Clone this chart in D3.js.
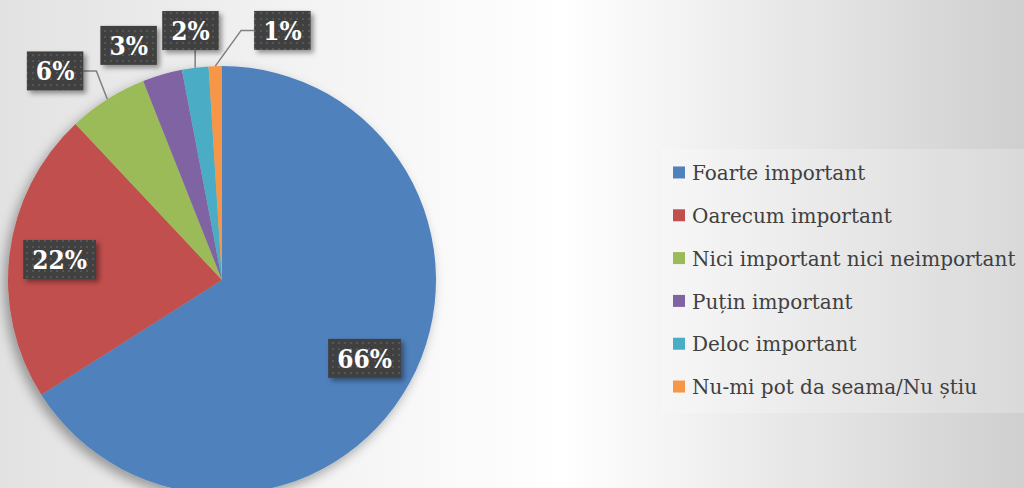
<!DOCTYPE html>
<html>
<head>
<meta charset="utf-8">
<script src="https://cdn.jsdelivr.net/npm/d3@7"></script>
<style>
html,body{margin:0;padding:0;overflow:hidden;background:#fff;}
svg{display:block;}
</style>
</head>
<body>
<svg id="chart" width="1024" height="488"></svg>
<script>
// ---- data ----
const categories = ["Foarte important","Oarecum important","Nici important nici neimportant","Puțin important","Deloc important","Nu-mi pot da seama/Nu știu"];
const values = [66, 22, 6, 3, 2, 1];
const labels = ["66%","22%","6%","3%","2%","1%"];
const colors = ["#4F81BD","#C0504D","#9BBB59","#8064A2","#4BACC6","#F79646"];

// ---- layout (label placement relative to pie) ----
const labelRadius = [0.76, 0.765, 1.25, 1.18, 1.175, 1.2];   // fraction of pie radius
const labelAngleShift = [0, 0, -6.2, -5.5, 0, 15.4];          // degrees
const labelOutside = [false, false, true, true, true, true];

const W = 1024, H = 488;
const cx = 222, cy = 280, R = 214;
const svg = d3.select("#chart");
const defs = svg.append("defs");

// background gradient
const bg = defs.append("linearGradient").attr("id","bg").attr("x1","0").attr("x2","1").attr("y1","0").attr("y2","0");
bg.append("stop").attr("offset","0").attr("stop-color","#e2e2e2");
bg.append("stop").attr("offset","0.28").attr("stop-color","#f2f2f2");
bg.append("stop").attr("offset","0.55").attr("stop-color","#ffffff");
bg.append("stop").attr("offset","1").attr("stop-color","#cfcfcf");
svg.append("rect").attr("width",W).attr("height",H).attr("fill","url(#bg)");

// pie shadow filter
const f = defs.append("filter").attr("id","pieShadow").attr("x","-20%").attr("y","-20%").attr("width","140%").attr("height","140%");
f.append("feDropShadow").attr("dx",-4).attr("dy",5).attr("stdDeviation",6).attr("flood-color","#000").attr("flood-opacity",0.35);

// label shadow
const f2 = defs.append("filter").attr("id","boxShadow").attr("x","-30%").attr("y","-30%").attr("width","160%").attr("height","160%");
f2.append("feDropShadow").attr("dx",3).attr("dy",3).attr("stdDeviation",2.5).attr("flood-color","#000").attr("flood-opacity",0.4);

// dotted pattern for label boxes
const pat = defs.append("pattern").attr("id","dots").attr("patternUnits","userSpaceOnUse").attr("width",6).attr("height",6);
pat.append("rect").attr("width",6).attr("height",6).attr("fill","#404040");
pat.append("rect").attr("x",2).attr("y",2).attr("width",2).attr("height",2).attr("fill","#565656");

// legend background
const legendBox = {x:661, y:149, w:363, h:264};
svg.append("rect").attr("x",legendBox.x).attr("y",legendBox.y).attr("width",legendBox.w).attr("height",legendBox.h)
  .attr("fill","#ffffff").attr("fill-opacity",0.22);

// pie
const pie = d3.pie().sort(null).value(d => d);
const arcs = pie(values);
const arc = d3.arc().innerRadius(0).outerRadius(R);
const g = svg.append("g").attr("transform",`translate(${cx},${cy})`);
g.append("g").attr("filter","url(#pieShadow)")
  .selectAll("path").data(arcs).join("path")
  .attr("d", arc).attr("fill",(d,i)=>colors[i]);

// labels
const lab = g.append("g");
const polar = (ang, r) => [r*Math.sin(ang), -r*Math.cos(ang)];
arcs.forEach((d,i) => {
  const mid = (d.startAngle + d.endAngle)/2;
  const ang = mid + labelAngleShift[i]*Math.PI/180;
  const [lx, ly] = polar(ang, labelRadius[i]*R);
  const grp = lab.append("g");
  const t = grp.append("text").attr("x",lx).attr("y",ly).attr("dy","0.36em")
    .attr("text-anchor","middle")
    .attr("font-family","'DejaVu Serif', serif").attr("font-weight","bold")
    .attr("font-stretch","condensed")
    .attr("font-size",26).attr("fill","#ffffff").text(labels[i]);
  const bb = t.node().getBBox();
  const bw = bb.width + 18, bh = 39;
  const bx = lx - bw/2, by = ly - bh/2;
  grp.insert("rect","text").attr("x",bx).attr("y",by).attr("width",bw).attr("height",bh)
    .attr("fill","url(#dots)").attr("filter","url(#boxShadow)");
  if (labelOutside[i]) {
    const [px, py] = polar(mid, R);
    const ddx = Math.max(bx - px, 0, px - (bx+bw));
    const ddy = Math.max(by - py, 0, py - (by+bh));
    if (Math.hypot(ddx, ddy) > 15) {
      let pts;
      if (px >= bx && px <= bx + bw) {
        pts = [[px, by+bh],[px, py]];
      } else if (px > bx + bw) {
        pts = [[bx+bw, ly],[bx+bw+13, ly],[px, py]];
      } else {
        pts = [[bx, ly],[bx-13, ly],[px, py]];
      }
      lab.insert("path", ":first-child").attr("d", d3.line()(pts))
        .attr("fill","none").attr("stroke","#7f7f7f").attr("stroke-width",1.5);
    }
  }
});

// legend
const ly = d3.scaleBand().domain(categories).range([legendBox.y + 0, legendBox.y + legendBox.h - 2]).paddingOuter(0.06);
const leg = svg.append("g");
categories.forEach((c,i) => {
  const yc = ly(c) + ly.bandwidth()/2;
  leg.append("rect").attr("x",673).attr("y",yc-6.5).attr("width",12).attr("height",12).attr("fill",colors[i]);
  leg.append("text").attr("x",692).attr("y",yc).attr("dy","0.36em")
    .attr("font-family","'DejaVu Serif', serif").attr("font-size",20).attr("fill","#404040").text(c);
});
</script>
</body>
</html>
